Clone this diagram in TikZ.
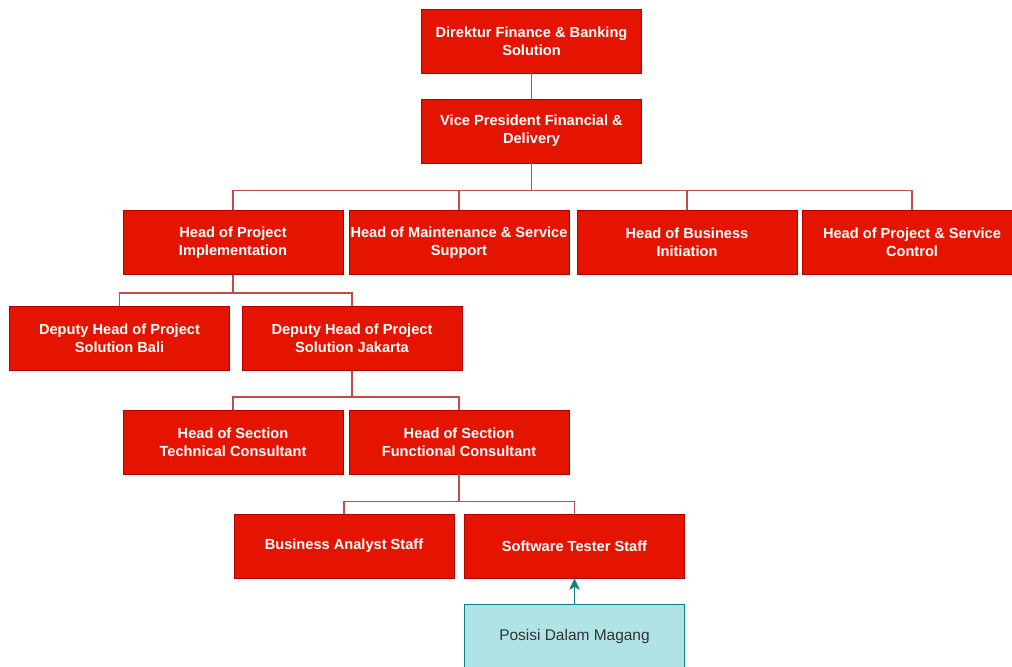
\documentclass[tikz,border=0pt]{standalone}
\usepackage{fontspec}
\setmainfont{Liberation Sans}
\usepackage{xcolor}
\usepackage{tikz}
\usetikzlibrary{arrows.meta}
\definecolor{boxred}{HTML}{E51400}
\definecolor{edgered}{HTML}{B20000}
\definecolor{linkred}{HTML}{C24B4B}
\definecolor{posfill}{HTML}{B0E3E6}
\definecolor{posedge}{HTML}{0E8088}
\definecolor{postext}{HTML}{333333}

\begin{document}
\begin{tikzpicture}[x=0.025cm, y=-0.025cm,
    jabatan/.style={draw=edgered, fill=boxred, text=white, line width=0.6pt,
        minimum width=5.5cm, minimum height=1.6cm, align=center,
        font=\fontsize{10.4}{12.8}\selectfont\bfseries, inner sep=1pt},
    posisi/.style={draw=posedge, fill=posfill, text=postext, line width=0.6pt,
        minimum width=5.5cm, minimum height=1.6cm,
        font=\fontsize{11}{13}\selectfont},
    garis/.style={draw=linkred, line width=0.8pt}]
    % Batas gambar
    \useasboundingbox (0,0) rectangle (1012,666);
    \clip (0,0) rectangle (1012,666);

    % Direktur dan VP
    \node[jabatan] (dir) at (531.5,41) {Direktur Finance \& Banking\\Solution};
    \node[jabatan] (vp) at (531.5,131) {Vice President Financial \&\\Delivery};

    % Head
    \node[jabatan] (hpi) at (233,242.5) {Head of Project\\Implementation};
    \node[jabatan] (hms) at (459,242.5) {Head of Maintenance \& Service\\Support};
    \node[jabatan] (hbi) at (687,242.5) {Head of Business\\Initiation};
    \node[jabatan] (hpsc) at (912,242.5) {Head of Project \& Service\\Control};

    % Deputy
    \node[jabatan] (bali) at (119.5,338.5) {Deputy Head of Project\\Solution Bali};
    \node[jabatan] (jkt) at (352,338.5) {Deputy Head of Project\\Solution Jakarta};

    % Head of Section
    \node[jabatan] (tech) at (233,442) {Head of Section\\Technical Consultant};
    \node[jabatan] (func) at (459,442) {Head of Section\\Functional Consultant};

    % Staff
    \node[jabatan] (ba) at (344,546) {Business Analyst Staff};
    \node[jabatan] (tester) at (574.5,546) {Software Tester Staff};

    % Posisi magang
    \node[posisi] (magang) at (574.5,636) {Posisi Dalam Magang};

    % Garis
    \draw[garis] (dir) -- (vp);
    \foreach \anak in {hpi, hms, hbi, hpsc}
        \draw[garis] (vp.south) -- ++(0,27) -| (\anak.north);
    \foreach \anak in {bali, jkt}
        \draw[garis] (hpi.south) -- ++(0,18) -| (\anak.north);
    \foreach \anak in {tech, func}
        \draw[garis] (jkt.south) -- ++(0,26) -| (\anak.north);
    \foreach \anak in {ba, tester}
        \draw[garis] (func.south) -- ++(0,27) -| (\anak.north);

    % Panah magang
    \draw[draw=posedge, line width=0.8pt, -{Stealth[length=8pt, width=7.5pt, inset=2pt]}] (magang) -- (tester);
\end{tikzpicture}
\end{document}
